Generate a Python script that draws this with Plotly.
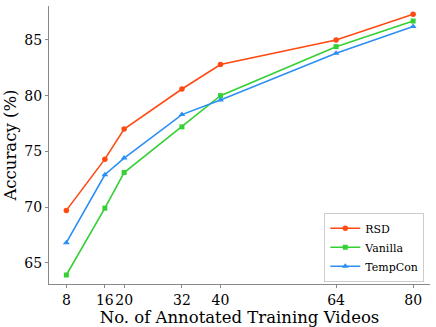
import plotly.graph_objects as go

videos = [8, 16, 20, 32, 40, 64, 80]
rsd = [69.7, 74.3, 77.0, 80.6, 82.8, 85.0, 87.3]
vanilla = [63.9, 69.9, 73.1, 77.2, 80.0, 84.4, 86.7]
tempcon = [66.8, 72.9, 74.4, 78.3, 79.6, 83.8, 86.2]

font = "DejaVu Serif"

fig = go.Figure()
fig.add_trace(go.Scatter(x=videos, y=rsd, name="RSD", mode="lines+markers",
                         line=dict(color="#ff4a12", width=1.6),
                         marker=dict(symbol="circle", size=5.5)))
fig.add_trace(go.Scatter(x=videos, y=vanilla, name="Vanilla", mode="lines+markers",
                         line=dict(color="#34d034", width=1.6),
                         marker=dict(symbol="square", size=5)))
fig.add_trace(go.Scatter(x=videos, y=tempcon, name="TempCon", mode="lines+markers",
                         line=dict(color="#2b8ff5", width=1.6),
                         marker=dict(symbol="triangle-up", size=6)))

fig.update_layout(
    width=436, height=327,
    margin=dict(l=49, r=6, t=6, b=43, autoexpand=False),
    paper_bgcolor="white", plot_bgcolor="white",
    font=dict(family=font, color="black", size=14),
    showlegend=True,
    legend=dict(x=0.985, y=0.008, xanchor="right", yanchor="bottom",
                bordercolor="#cccccc", borderwidth=1, bgcolor="white",
                font=dict(size=11, family=font), tracegroupgap=0,
                itemwidth=30),
)
fig.update_xaxes(range=[4.4, 83.5], tickvals=videos, ticktext=["8", "16", "20", "32", "40", "64", "80"],
                 tickangle=0,
                 showgrid=False, zeroline=False, showline=True, linecolor="#888888", linewidth=1,
                 ticks="outside", ticklen=3, tickcolor="#888888",
                 title=dict(text="No. of Annotated Training Videos", font=dict(size=16.5), standoff=1))
fig.update_yaxes(range=[63.09, 88.05], tickvals=[65, 70, 75, 80, 85],
                 showgrid=False, zeroline=False, showline=True, linecolor="#888888", linewidth=1,
                 ticks="outside", ticklen=3, tickcolor="#888888",
                 title=dict(text="Accuracy (%)", font=dict(size=16.5), standoff=3))

# page has a default body margin; drop it so the figure sits at the window origin
fig.write_html("out.html", config={"displayModeBar": False},
               post_script="document.body.style.margin='0';")
